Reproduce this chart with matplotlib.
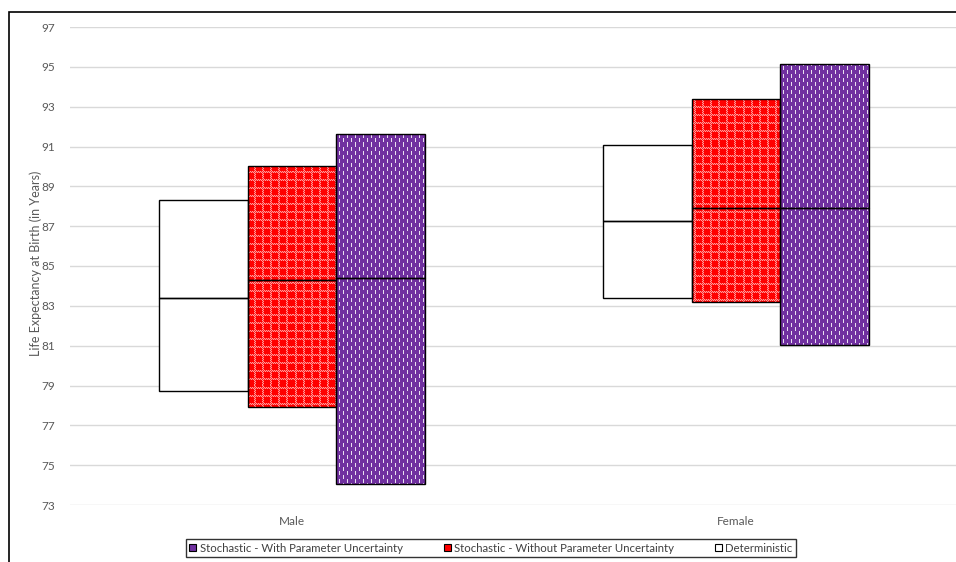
import numpy as np
import matplotlib.pyplot as plt
from matplotlib.patches import Patch, Rectangle

plt.rcParams["font.family"] = ["Lato", "DejaVu Sans"]

categories = ["Male", "Female"]

# low / median / high for each scenario
det_low = [78.7, 83.4]
det_mid = [83.4, 87.25]
det_high = [88.3, 91.1]

nopu_low = [77.9, 83.2]
nopu_mid = [84.3, 87.9]
nopu_high = [90.0, 93.4]

pu_low = [74.05, 81.05]
pu_mid = [84.4, 87.9]
pu_high = [91.65, 95.15]

y_ticks = list(range(73, 98, 2))

RED = np.array([1.0, 0.0, 0.0])
PURPLE = np.array([112, 48, 160]) / 255.0


def blend(base, amt):
    return base + (1.0 - base) * amt


def red_tile():
    # dotted light lattice over solid red
    tile = np.tile(RED, (8, 8, 1)).astype(float)
    for i in range(8):
        for j in range(8):
            if i < 2 or j < 2:
                amt = 0.6 if (i + j) % 2 == 0 else 0.15
                tile[i, j] = blend(RED, amt)
    return tile


def purple_tile():
    # staggered short white dashes
    tile = np.tile(PURPLE, (8, 8, 1)).astype(float)
    for i in range(4):
        tile[i, 1] = blend(PURPLE, 0.85)
        tile[i + 4, 5] = blend(PURPLE, 0.85)
    return tile


def texture(tile, h, w):
    reps = (h // tile.shape[0] + 1, w // tile.shape[1] + 1, 1)
    return np.tile(tile, reps)[:h, :w]


def main():
    fig = plt.figure(figsize=(9.56, 5.62), dpi=100)
    ax = fig.add_axes([70 / 956, 1 - 505 / 562, 888 / 956, 478 / 562])

    xlim = (-0.5, 1.5)
    ylim = (73, 97)
    x = np.arange(len(categories))
    w = 0.2

    series = [
        (det_low, det_mid, det_high, -w, None),
        (nopu_low, nopu_mid, nopu_high, 0.0, red_tile()),
        (pu_low, pu_mid, pu_high, w, purple_tile()),
    ]

    pw, ph = 888, 478
    for low, mid, high, off, tile in series:
        low, mid, high = map(np.array, (low, mid, high))
        face = "white" if tile is None else tile[4, 4]
        parts = [(low, mid - low), (mid, high - mid)]
        for bottom, height in parts:
            bars = ax.bar(x + off, height, w, bottom=bottom, color=face,
                          edgecolor="none", zorder=2)
            if tile is not None:
                tex = texture(tile, ph, pw)
                for patch in bars.patches:
                    im = ax.imshow(tex, extent=(*xlim, *ylim), origin="upper",
                                   interpolation="nearest", aspect="auto",
                                   zorder=2.5)
                    im.set_clip_path(patch)
            ax.bar(x + off, height, w, bottom=bottom, fill=False,
                   edgecolor="black", linewidth=1.0, zorder=3)

    ax.set_xlim(*xlim)
    ax.set_ylim(*ylim)
    ax.set_yticks(y_ticks)
    ax.set_xticks(x)
    ax.set_xticklabels(categories)
    ax.yaxis.grid(True, color="#D9D9D9", linewidth=1.0, zorder=0)
    ax.set_axisbelow(True)
    for s in ax.spines.values():
        s.set_visible(False)
    ax.tick_params(axis="both", length=0, labelsize=8.5, labelcolor="#595959")
    ax.tick_params(axis="y", pad=11)
    ax.tick_params(axis="x", pad=8)

    fig.text(36 / 956, 1 - 263 / 562, "Life Expectancy at Birth (in Years)",
             rotation=90, ha="center", va="center", fontsize=9,
             color="#595959")

    handles = [
        Patch(facecolor=PURPLE, edgecolor="black", linewidth=0.8,
              label="Stochastic - With Parameter Uncertainty"),
        Patch(facecolor=RED, edgecolor="black", linewidth=0.8,
              label="Stochastic - Without Parameter Uncertainty"),
        Patch(facecolor="white", edgecolor="black", linewidth=0.8,
              label="Deterministic"),
    ]
    leg = fig.legend(handles=handles, loc="center",
                     bbox_to_anchor=(491 / 956, 1 - 548 / 562), ncol=3,
                     fontsize=8.2, frameon=True, fancybox=False,
                     handlelength=0.6, handleheight=0.6, handletextpad=0.3,
                     columnspacing=3.6, borderpad=0.35)
    leg.get_frame().set_edgecolor("black")
    leg.get_frame().set_linewidth(1.0)
    for t in leg.get_texts():
        t.set_color("#404040")

    # outer chart frame, running off the right and bottom edges
    fig.patches.append(Rectangle((9 / 956, -0.05), 1.1, 1 - 12 / 562 + 0.05,
                                 transform=fig.transFigure, fill=False,
                                 edgecolor="black", linewidth=1.2))

    fig.savefig("out.png", dpi=100)
    plt.close(fig)


if __name__ == "__main__":
    main()
